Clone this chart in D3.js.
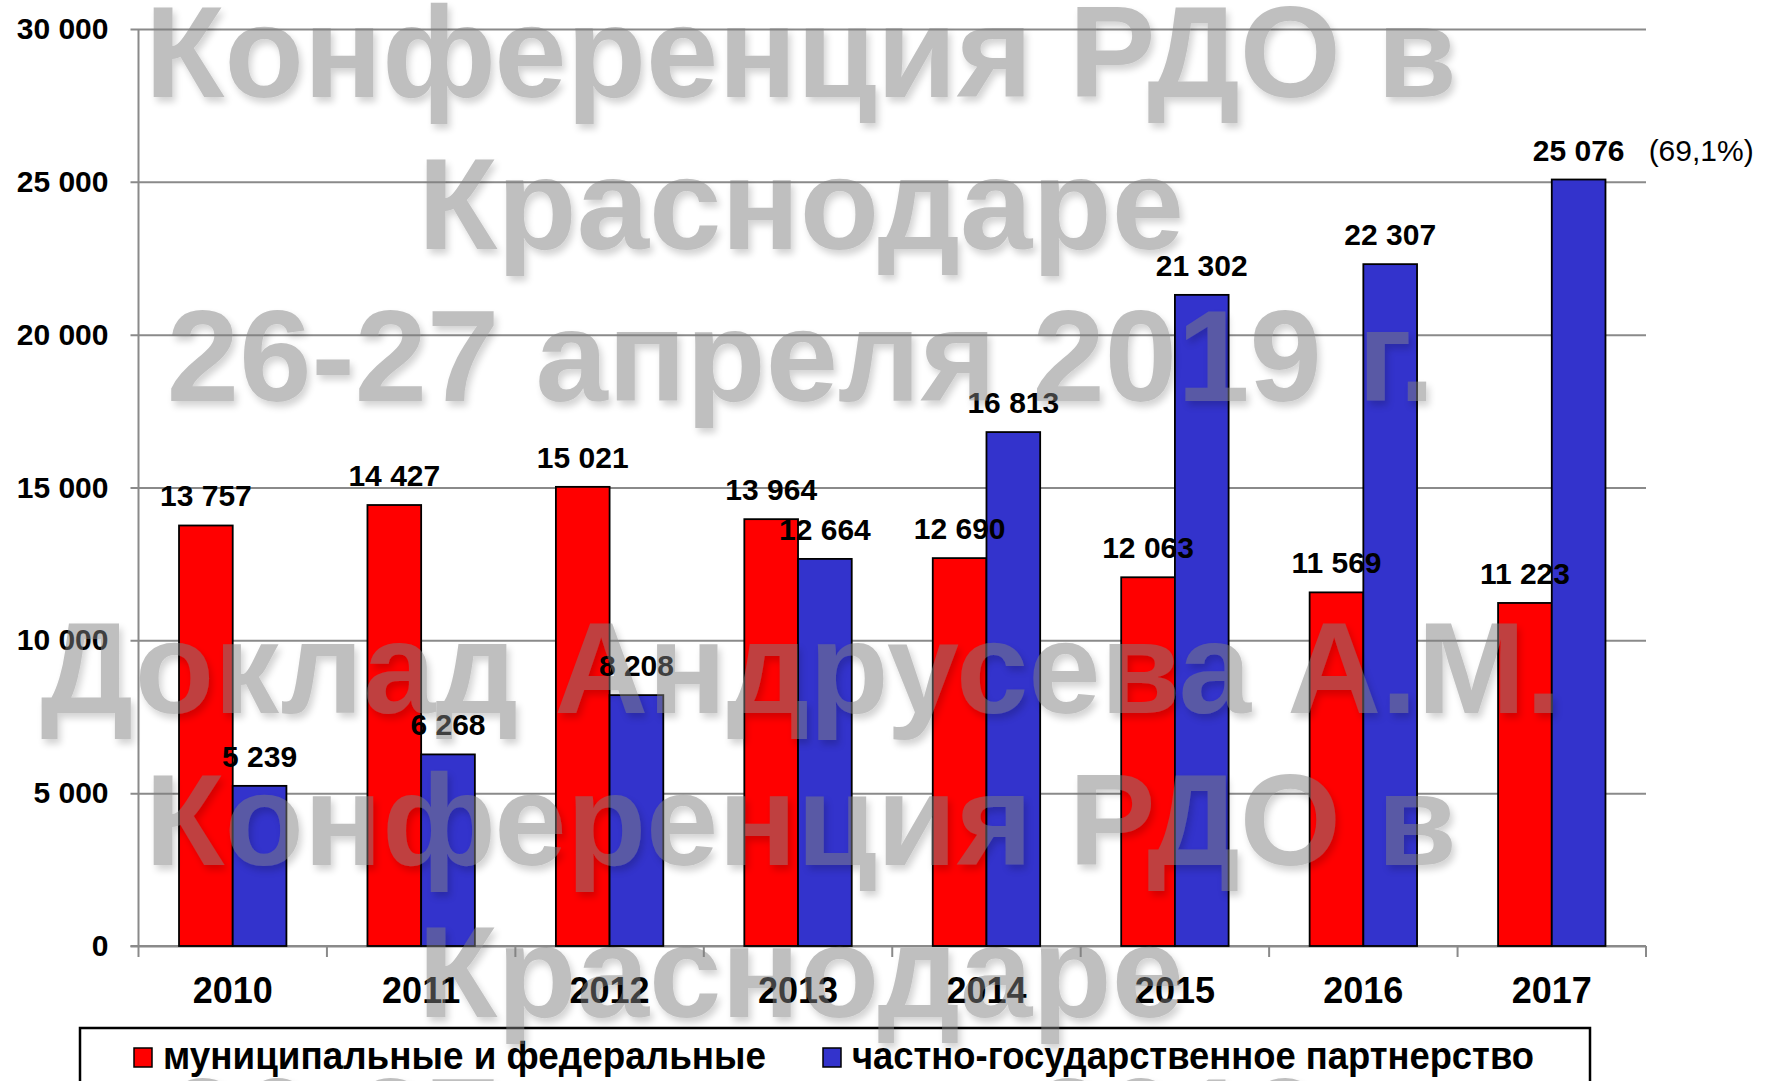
<!DOCTYPE html>
<html>
<head>
<meta charset="utf-8">
<script src="https://cdn.jsdelivr.net/npm/d3@7"></script>
<style>
  body { margin: 0; background: #fff; }
  text { font-family: "Liberation Sans", Arial, sans-serif; }
</style>
</head>
<body>
<div id="chart"></div>
<script>
// data
const years = ['2010', '2011', '2012', '2013', '2014', '2015', '2016', '2017'];
const municipal = [13757, 14427, 15021, 13964, 12690, 12063, 11569, 11223];
const partnership = [5239, 6268, 8208, 12664, 16813, 21302, 22307, 25076];
const seriesNames = ['муниципальные и федеральные', 'частно-государственное партнерство'];
const seriesColors = ['#ff0000', '#3333cc'];
const yTicks = [0, 5000, 10000, 15000, 20000, 25000, 30000];
const lastNote = '(69,1%)';
const stampTop = ['Конференция РДО в', 'Краснодаре', '26-27 апреля 2019 г.'];
const stampBottom = ['Доклад Андрусева А.М.', 'Конференция РДО в', 'Краснодаре', '26-27 апреля 2019 г.'];

const width = 1766, height = 1081;
const plot = { left: 138.5, right: 1646, top: 29, bottom: 946 };

const ru = d3.formatLocale({ decimal: ',', thousands: '\u00a0', grouping: [3], currency: ['', ' ₽'] });
const fmt = ru.format(',d');

const svg = d3.select('#chart').append('svg')
  .attr('width', width)
  .attr('height', height);

svg.append('rect').attr('width', width).attr('height', height).attr('fill', '#fff');

const defs = svg.append('defs');
const shadow = defs.append('filter').attr('id', 'stampShadow')
  .attr('x', '-5%').attr('y', '-20%').attr('width', '110%').attr('height', '140%');
shadow.append('feDropShadow')
  .attr('dx', 3).attr('dy', 5).attr('stdDeviation', 3.5)
  .attr('flood-color', '#000').attr('flood-opacity', 0.35);

let x0 = d3.scaleBand()
  .domain(years)
  .range([plot.left, plot.right])
  .paddingInner(0.43)
  .paddingOuter(0.215);

let x1 = d3.scaleBand()
  .domain([0, 1])
  .range([0, x0.bandwidth()]);

let y = d3.scaleLinear()
  .domain([0, 30000])
  .range([plot.bottom, plot.top]);

// grid lines + y ticks
let yAxis = d3.axisLeft(y)
  .tickValues(yTicks)
  .tickFormat(fmt)
  .tickSize(-(plot.right - plot.left + 8))
  .tickPadding(22);

let gy = svg.append('g')
  .attr('transform', 'translate(' + (plot.left - 8) + ',0)')
  .call(yAxis);
gy.select('.domain').remove();
gy.selectAll('.tick line')
  .attr('stroke', '#8a8a8a')
  .attr('stroke-width', 2);
gy.selectAll('.tick text')
  .attr('fill', '#000')
  .style('font-size', '30px')
  .style('font-weight', 'bold');

// y axis line
svg.append('line')
  .attr('x1', plot.left).attr('x2', plot.left)
  .attr('y1', y(30000)).attr('y2', y(0))
  .attr('stroke', '#8a8a8a').attr('stroke-width', 2);

// x axis with ticks between categories
svg.append('line')
  .attr('x1', plot.left - 8).attr('x2', plot.right)
  .attr('y1', y(0)).attr('y2', y(0))
  .attr('stroke', '#8a8a8a').attr('stroke-width', 2);

let bounds = years.map(d => x0(d) - x0.step() * x0.paddingInner() / 2);
bounds.push(plot.right);
svg.selectAll('.xtick')
  .data(bounds)
  .enter().append('line')
  .attr('class', 'xtick')
  .attr('x1', d => d).attr('x2', d => d)
  .attr('y1', y(0)).attr('y2', y(0) + 11)
  .attr('stroke', '#8a8a8a').attr('stroke-width', 2);

svg.selectAll('.xlabel')
  .data(years)
  .enter().append('text')
  .attr('class', 'xlabel')
  .attr('x', d => x0(d) + x0.bandwidth() / 2)
  .attr('y', 1003)
  .attr('text-anchor', 'middle')
  .style('font-size', '36px')
  .style('font-weight', 'bold')
  .text(d => d);

// bars
let rows = years.map((yr, i) => ({ year: yr, values: [municipal[i], partnership[i]] }));

let groups = svg.selectAll('.group')
  .data(rows)
  .enter().append('g')
  .attr('class', 'group')
  .attr('transform', d => 'translate(' + x0(d.year) + ',0)');

groups.selectAll('rect')
  .data(d => d.values.map((v, k) => ({ k: k, v: v })))
  .enter().append('rect')
  .attr('x', d => x1(d.k))
  .attr('y', d => y(d.v))
  .attr('width', x1.bandwidth())
  .attr('height', d => y(0) - y(d.v))
  .attr('fill', d => seriesColors[d.k])
  .attr('stroke', '#000')
  .attr('stroke-width', 1.8);

groups.selectAll('.val')
  .data(d => d.values.map((v, k) => ({ k: k, v: v })))
  .enter().append('text')
  .attr('class', 'val')
  .attr('x', d => x1(d.k) + x1.bandwidth() / 2)
  .attr('y', d => y(d.v) - 19)
  .attr('text-anchor', 'middle')
  .style('font-size', '30px')
  .style('font-weight', 'bold')
  .text(d => fmt(d.v));

// share note next to the last value
let last = years[years.length - 1];
svg.append('text')
  .attr('x', x0(last) + x1(1) + x1.bandwidth() / 2 + 70)
  .attr('y', y(partnership[partnership.length - 1]) - 19)
  .style('font-size', '30px')
  .text(lastNote);

// legend
let legend = svg.append('g');
legend.append('rect')
  .attr('x', 80).attr('y', 1028)
  .attr('width', 1510).attr('height', 80)
  .attr('fill', 'none')
  .attr('stroke', '#000').attr('stroke-width', 2.5);

let legendX = [134, 823];
let legendW = [603, 682];
seriesNames.forEach((name, i) => {
  legend.append('rect')
    .attr('x', legendX[i]).attr('y', 1048)
    .attr('width', 18).attr('height', 19)
    .attr('fill', seriesColors[i])
    .attr('stroke', '#000').attr('stroke-width', 1.5);
  legend.append('text')
    .attr('x', legendX[i] + 29).attr('y', 1069)
    .attr('textLength', legendW[i])
    .attr('lengthAdjust', 'spacingAndGlyphs')
    .style('font-size', '39px')
    .style('font-weight', 'bold')
    .text(name);
});

// watermark stamped over the chart
let stamp = svg.append('g')
  .attr('filter', 'url(#stampShadow)')
  .attr('opacity', 0.5);

function stampBlock(lines, baseline) {
  stamp.selectAll(null)
    .data(lines)
    .enter().append('text')
    .attr('x', 801)
    .attr('y', (d, i) => baseline + i * 152)
    .attr('text-anchor', 'middle')
    .attr('fill', '#808080')
    .style('font-size', '130px')
    .style('font-weight', 'bold')
    .text(d => d);
}
stampBlock(stampTop, 97);
stampBlock(stampBottom, 713);
</script>
</body>
</html>
